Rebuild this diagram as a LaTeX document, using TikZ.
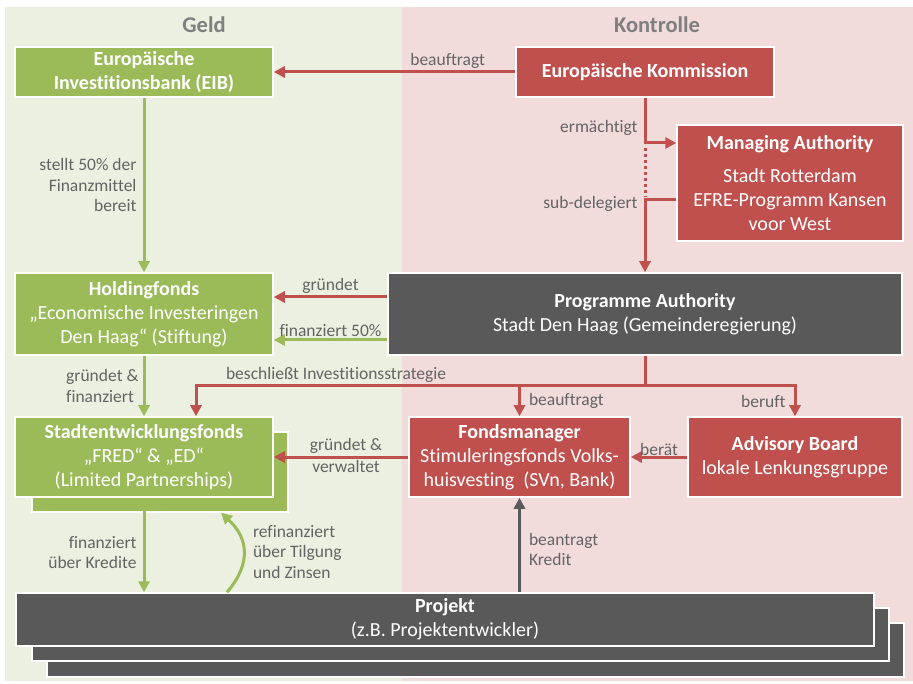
\documentclass[tikz,border=0pt]{standalone}
\usepackage{fontspec}
\setmainfont{Carlito}[Ligatures=CommonOff]
\usetikzlibrary{arrows.meta,calc}
\definecolor{gboxc}{HTML}{9BBB59}
\definecolor{rboxc}{HTML}{C0504D}
\definecolor{dboxc}{HTML}{595959}
\definecolor{gpanel}{HTML}{EBF0E0}
\definecolor{rpanel}{HTML}{F2DCDB}
\definecolor{labgray}{HTML}{646464}
\definecolor{titlegray}{HTML}{7F7F7F}
\tikzset{
  box/.style={draw=white, line width=1.5pt, text=white, align=center, inner sep=0pt,
    font=\fontsize{20}{24}\selectfont},
  gbx/.style={box, fill=gboxc},
  rbx/.style={box, fill=rboxc},
  dbx/.style={box, fill=dboxc},
  ttl/.style={text=titlegray, font=\fontsize{22.5}{26}\selectfont\bfseries},
  lab/.style={text=labgray, font=\fontsize{17.5}{20.5}\selectfont, inner sep=2pt},
  tipx/.style={-{Triangle[length=11pt,width=11pt]}},
  rline/.style={draw=rboxc, line width=3pt},
  rarr/.style={rline, tipx},
  garr/.style={draw=gboxc, line width=3pt, tipx},
  darr/.style={draw=dboxc, line width=3pt, tipx}
}
\begin{document}
\begin{tikzpicture}[x=1pt,y=-1pt]
\useasboundingbox (0,0) rectangle (913,684);
\fill[gpanel] (5,7) rectangle (402,681);
\fill[rpanel] (402,7) rectangle (913,681);
\node[ttl] (tg) at (204,25) {Geld};
\node[ttl] (tk) at (657,25) {Kontrolle};

% boxes
\node[gbx, minimum width=258pt, minimum height=50pt] (eib) at (144,72)
  {\textbf{Europäische}\\\textbf{Investitionsbank (EIB)}};
\node[rbx, minimum width=258pt, minimum height=50pt] (ek) at (645,72)
  {\textbf{Europäische Kommission}};
\node[rbx, minimum width=226pt, minimum height=116pt] (ma) at (790,183)
  {\textbf{Managing Authority}\\[9pt]Stadt Rotterdam\\EFRE-Programm Kansen\\voor West};
\node[gbx, minimum width=258pt, minimum height=82pt] (hf) at (144,314)
  {\textbf{Holdingfonds}\\„Economische Investeringen\\Den Haag“ (Stiftung)};
\node[dbx, minimum width=514pt, minimum height=82pt] (pa) at (645,314)
  {\textbf{Programme Authority}\\Stadt Den Haag (Gemeinderegierung)};
\node[gbx, minimum width=256pt, minimum height=80pt] (sefb) at (160,472) {};
\node[gbx, minimum width=258pt, minimum height=80pt] (sef) at (144,457)
  {\textbf{Stadtentwicklungsfonds}\\„FRED“ \& „ED“\\(Limited Partnerships)};
\node[rbx, minimum width=221pt, minimum height=80pt] (fm) at (519.5,457)
  {\textbf{Fondsmanager}\\Stimuleringsfonds Volks-\\huisvesting\ \ (SVn, Bank)};
\node[rbx, minimum width=214pt, minimum height=80pt] (ab) at (795,457)
  {\textbf{Advisory Board}\\lokale Lenkungsgruppe};
\node[dbx, minimum width=857pt, minimum height=54pt] (proj3) at (475.5,650) {};
\node[dbx, minimum width=857pt, minimum height=53pt] (proj2) at (460.5,634.5) {};
\node[dbx, minimum width=858pt, minimum height=53pt] (proj) at (445,619.5)
  {\textbf{Projekt}\\(z.B. Projektentwickler)};

% connectors
\draw[rarr] (ek.west) -- node[lab, pos=0.28, above]{beauftragt} (eib.east);
\draw[garr] (eib) -- node[lab, left, align=right, xshift=-4pt]{stellt 50\% der\\Finanzmittel\\bereit} (hf);

\coordinate (c1) at (645,143);
\draw[rarr] (ek.south) |- node[lab, pos=0.33, left, xshift=-4pt]{ermächtigt} (ma.west |- c1);
\coordinate (d1) at (645,148);
\coordinate (d2) at (645,197);
\draw[rline, dash pattern=on 3pt off 3pt] (d1) -- (d2);
\path (ma.west) ++(0,17) coordinate (c2);
\draw[rarr] (c2) -| node[lab, pos=0.53, left, xshift=-4pt]{sub-delegiert} (pa.north);

\draw[rarr] ([yshift=17pt]pa.west) -- node[lab, above]{gründet} ([yshift=17pt]hf.east);
\draw[garr] ([yshift=-26pt]pa.west) -- node[lab, above]{finanziert 50\%} ([yshift=-26pt]hf.east);

\draw[garr] (hf.south) -- node[lab, left, align=left, xshift=-2pt]{gründet \&\\finanziert} (sef.north);

\path (pa.south) ++(0,30) coordinate (split);
\draw[rline] (pa.south) -- (split);
\draw[rarr] (split) -| node[lab, pos=0.344, above]{beschließt Investitionsstrategie} ([xshift=52pt]sef.north);
\draw[rarr] (split) -| node[lab, pos=0.75, right, xshift=6pt]{beauftragt} (fm.north);
\draw[rarr] (split) -| node[lab, pos=0.75, left, xshift=-6pt]{beruft} (ab.north);

\draw[rarr] (fm.west) -- node[lab, above, xshift=5pt]{gründet \&} node[lab, below, xshift=5pt]{verwaltet} (sef.east);
\draw[rarr] (ab.west) -- node[lab, above, inner sep=0pt]{berät} (fm.east);

\draw[garr] (sef.south) -- node[lab, pos=0.58, left, align=right, xshift=-4pt]{finanziert\\über Kredite} (proj.north -| sef.south);

\path ([xshift=-218pt]proj.north) coordinate (r1);
\path ([xshift=61pt]sefb.south) coordinate (r2);
\draw[garr] (r1) .. controls ($(r1)+(24,-28)$) and ($(r2)+(28,26)$) .. node[lab, pos=0.5, right, align=left, xshift=6pt]{refinanziert\\über Tilgung\\und Zinsen} (r2);

\draw[darr] (proj.north -| fm.south) -- node[lab, pos=0.45, right, align=left, xshift=6pt]{beantragt\\Kredit} (fm.south);
\end{tikzpicture}
\end{document}
